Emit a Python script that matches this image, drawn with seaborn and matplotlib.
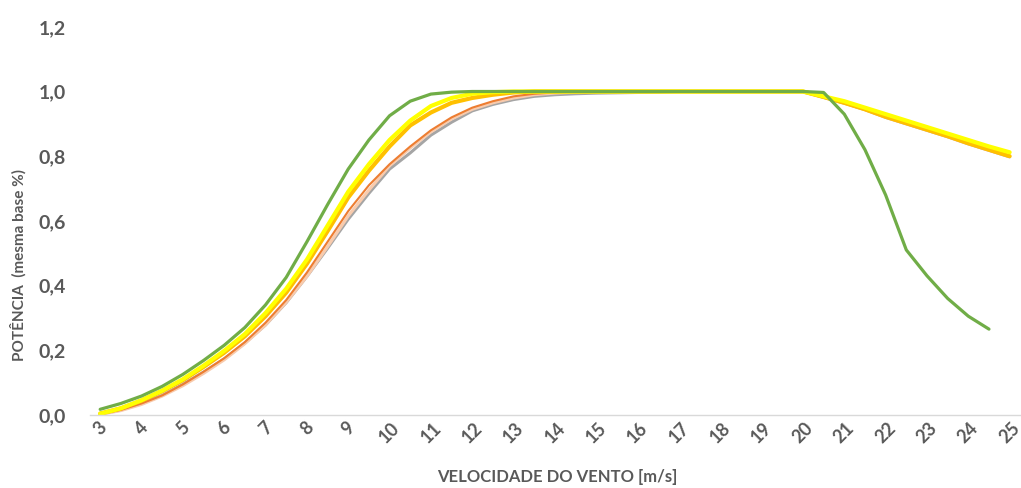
import numpy as np
import pandas as pd
import matplotlib
matplotlib.use("Agg")
import matplotlib.pyplot as plt
import seaborn as sns

# ---------- data ----------
speed = [3, 3.5, 4, 4.5, 5, 5.5, 6, 6.5, 7, 7.5, 8, 8.5, 9, 9.5, 10, 10.5,
         11, 11.5, 12, 12.5, 13, 13.5, 14, 14.5, 15, 15.5, 16, 16.5, 17, 17.5,
         18, 18.5, 19, 19.5, 20, 20.5, 21, 21.5, 22, 22.5, 23, 23.5, 24, 24.5, 25]

green = [0.017, 0.035, 0.058, 0.088, 0.125, 0.168, 0.215, 0.27, 0.34, 0.425,
         0.535, 0.65, 0.76, 0.85, 0.925, 0.97, 0.992, 0.998,
         1.0, 1.0, 1.0, 1.0, 1.0, 1.0, 1.0, 1.0, 1.0, 1.0, 1.0, 1.0, 1.0, 1.0,
         1.0, 1.0, 1.0,
         0.997, 0.93, 0.82, 0.68, 0.51, 0.43, 0.36, 0.305, 0.265, np.nan]

yellow = [0.003, 0.02, 0.045, 0.075, 0.11, 0.152, 0.198, 0.25, 0.315, 0.39,
          0.48, 0.585, 0.69, 0.775, 0.85, 0.91, 0.955, 0.98, 0.993, 0.998,
          1.0, 1.0, 1.0, 1.0, 1.0, 1.0, 1.0, 1.0, 1.0, 1.0, 1.0, 1.0, 1.0,
          1.0, 1.0,
          0.985, 0.97, 0.95, 0.93, 0.91, 0.89, 0.87, 0.85, 0.83, 0.812]

gold = [0.004, 0.02, 0.044, 0.073, 0.107, 0.148, 0.192, 0.243, 0.305, 0.378,
        0.467, 0.568, 0.672, 0.755, 0.83, 0.895, 0.935, 0.965, 0.98, 0.99,
        0.997,
        1.0, 1.0, 1.0, 1.0, 1.0, 1.0, 1.0, 1.0, 1.0, 1.0, 1.0, 1.0, 1.0, 1.0,
        0.983, 0.965, 0.945, 0.922, 0.902, 0.882, 0.862, 0.84, 0.82, 0.80]

orange = [0.002, 0.015, 0.035, 0.06, 0.094, 0.133, 0.175, 0.225, 0.285, 0.355,
          0.44, 0.535, 0.63, 0.71, 0.775, 0.83, 0.88, 0.92, 0.95, 0.97, 0.985,
          0.993, 0.997,
          1.0, 1.0, 1.0, 1.0, 1.0, 1.0, 1.0, 1.0, 1.0, 1.0, 1.0, 1.0,
          0.982, 0.964, 0.944, 0.92, 0.9, 0.88, 0.86, 0.838, 0.818, 0.798]

peach = [0.001, 0.013, 0.032, 0.058, 0.09, 0.128, 0.17, 0.22, 0.278, 0.348,
         0.428, 0.52, 0.615, 0.695, 0.77, 0.825, 0.875, 0.915, 0.945, 0.965,
         0.98, 0.99, 0.995, 0.998,
         1.0, 1.0, 1.0, 1.0, 1.0, 1.0, 1.0, 1.0, 1.0, 1.0, 1.0,
         0.982, 0.964, 0.944, 0.92, 0.9, 0.88, 0.86, 0.838, 0.818, 0.798]

gray = [0.002, 0.015, 0.035, 0.06, 0.094, 0.132, 0.173, 0.222, 0.278, 0.347,
        0.428, 0.515, 0.605, 0.685, 0.76, 0.81, 0.865, 0.905, 0.94, 0.96,
        0.975, 0.985, 0.99, 0.993, 0.995, 0.996, 0.997, 0.998,
        1.0, 1.0, 1.0, 1.0, 1.0, 1.0, 1.0,
        0.982, 0.964, 0.944, 0.92, 0.9, 0.88, 0.86, 0.838, 0.818, 0.798]

x_ticks = [3, 4, 5, 6, 7, 8, 9, 10, 11, 12, 13, 14, 15, 16, 17, 18, 19, 20,
           21, 22, 23, 24, 25]
y_ticks = [0.0, 0.2, 0.4, 0.6, 0.8, 1.0, 1.2]
y_labels = ["0,0", "0,2", "0,4", "0,6", "0,8", "1,0", "1,2"]

# ---------- style ----------
sns.set_theme(style="white")
plt.rcParams["font.family"] = ["Lato", "DejaVu Sans"]
text_col = "#595959"

fig = plt.figure(figsize=(10.21, 4.88), dpi=100)
ax = fig.add_axes([0.088, 0.150, 0.911, 0.795])

# draw order: later on top
series = [
    ("gray", gray, "#A5A5A5", 2.2),
    ("peach", peach, "#F8CBAD", 2.2),
    ("orange", orange, "#ED7D31", 1.5),
    ("gold", gold, "#FFC000", 3.0),
    ("yellow", yellow, "#FFFF00", 3.0),
    ("green", green, "#70AD47", 2.3),
]
for name, vals, col, lw in series:
    df = pd.DataFrame({"speed": speed, "power": vals})
    sns.lineplot(data=df, x="speed", y="power", color=col, linewidth=lw,
                 ax=ax, legend=False)

ax.set_xlim(2.75, 25.25)
ax.set_ylim(0, 1.2)
ax.set_yticks(y_ticks)
ax.set_yticklabels(y_labels, fontsize=14, fontweight="bold", color=text_col)
ax.set_xticks(x_ticks)
ax.set_xticklabels([str(t) for t in x_ticks], rotation=45, ha="center",
                   fontsize=13, fontweight="bold", color=text_col)
ax.tick_params(axis="y", length=0, pad=17)
ax.tick_params(axis="x", length=0, pad=3)

for s in ["top", "right", "left"]:
    ax.spines[s].set_visible(False)
ax.spines["bottom"].set_color("#D9D9D9")
ax.spines["bottom"].set_linewidth(1.0)
ax.grid(False)

ax.set_xlabel("VELOCIDADE DO VENTO [m/s]", fontsize=12, fontweight="bold",
              color=text_col)
ax.xaxis.set_label_coords(0.503, -0.14)
ax.set_ylabel("POTÊNCIA  (mesma base %)", fontsize=11, fontweight="bold",
              color=text_col)
ax.yaxis.set_label_coords(-0.068, 0.385)

fig.savefig("out.png", dpi=100)
